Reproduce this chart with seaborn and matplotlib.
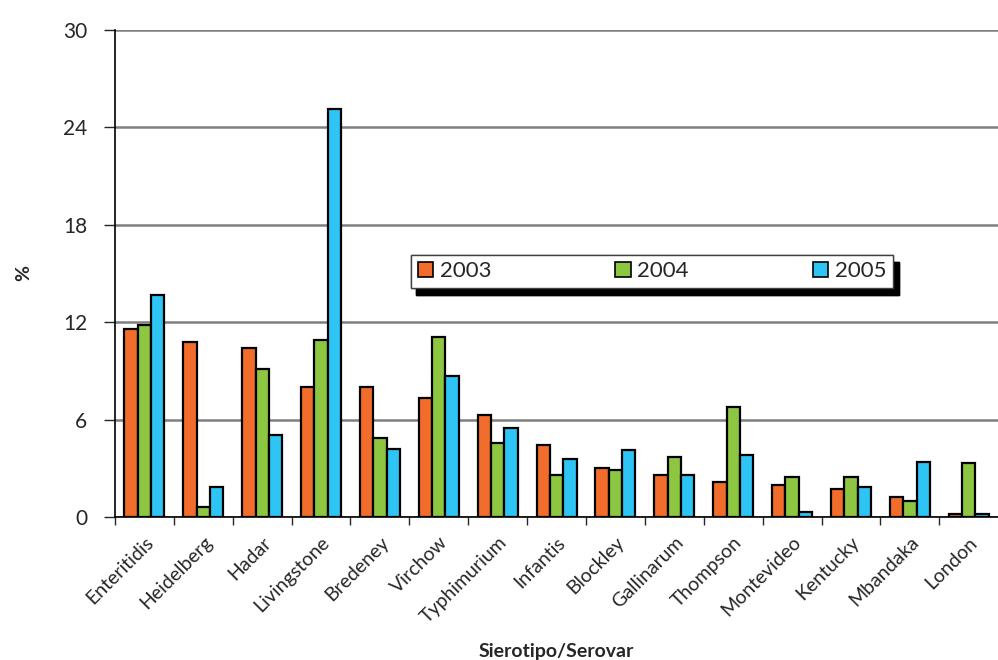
import numpy as np
import pandas as pd
import matplotlib
matplotlib.use("Agg")
import matplotlib.pyplot as plt
import seaborn as sns

# %% data
serovars = ["Enteritidis", "Heidelberg", "Hadar", "Livingstone", "Bredeney",
            "Virchow", "Typhimurium", "Infantis", "Blockley", "Gallinarum",
            "Thompson", "Montevideo", "Kentucky", "Mbandaka", "London"]
years = ["2003", "2004", "2005"]
pct_2003 = [11.6, 10.8, 10.4, 8.0, 8.0, 7.35, 6.3, 4.45, 3.0, 2.6, 2.15, 1.95, 1.75, 1.2, 0.2]
pct_2004 = [11.8, 0.6, 9.1, 10.9, 4.85, 11.1, 4.55, 2.6, 2.9, 3.7, 6.75, 2.45, 2.45, 1.0, 3.3]
pct_2005 = [13.7, 1.85, 5.05, 25.1, 4.2, 8.7, 5.5, 3.6, 4.15, 2.6, 3.8, 0.3, 1.85, 3.4, 0.2]
yticks = [0, 6, 12, 18, 24, 30]
colors = ["#F26D2B", "#8DC641", "#2EC4F3"]

df = pd.DataFrame({
    "Serovar": serovars * 3,
    "Anno": [y for y in years for _ in serovars],
    "pct": pct_2003 + pct_2004 + pct_2005,
})

# %% plot
sns.set_style("white")
plt.rcParams["font.family"] = ["Lato", "DejaVu Sans"]

fig = plt.figure(figsize=(9.98, 6.6), dpi=100)
ax = fig.add_axes([0.1152, 0.2167, 0.885, 0.738])

sns.barplot(data=df, x="Serovar", y="pct", hue="Anno", palette=colors,
            saturation=1, width=0.68, edgecolor="black", linewidth=1.6,
            ax=ax, zorder=3)

ax.set_ylim(0, 30)
ax.set_xlim(-0.5, len(serovars) - 0.5)
ax.set_yticks(yticks)
ax.set_yticklabels([str(t) for t in yticks], fontsize=15)
ax.yaxis.grid(True, color="#7f7f7f", linewidth=1.8, zorder=0)
ax.set_axisbelow(True)

for s in ["top", "right"]:
    ax.spines[s].set_visible(False)
ax.spines["left"].set_color("black")
ax.spines["bottom"].set_color("black")
ax.spines["left"].set_linewidth(1.2)
ax.spines["bottom"].set_linewidth(1.2)

ax.tick_params(axis="y", left=True, length=8, width=1, direction="out", pad=12)
ax.set_xticks(np.arange(len(serovars)))
ax.set_xticklabels(serovars, rotation=45, ha="right", rotation_mode="anchor", fontsize=14)
ax.tick_params(axis="x", which="major", length=0, pad=12)
ax.set_xticks(np.arange(len(serovars)) - 0.5, minor=True)
ax.tick_params(axis="x", which="minor", bottom=True, length=6, width=1, direction="out")

ax.set_ylabel("%", fontsize=14, fontweight="bold", labelpad=22)
ax.set_xlabel("Sierotipo/Serovar", fontsize=14, fontweight="bold", labelpad=12)

leg = ax.legend(loc="lower left", bbox_to_anchor=(0.335, 0.47, 0.546, 0.068),
                mode="expand", ncol=3, fontsize=16, frameon=True, fancybox=False,
                edgecolor="#404040", handlelength=0.7, handleheight=0.7,
                handletextpad=0.3, borderaxespad=0, borderpad=0.3,
                shadow={"color": "black", "alpha": 1, "ox": 4, "oy": -5})
leg.get_frame().set_linewidth(1.0)
for h in leg.legend_handles:
    h.set_linewidth(1.2)
ax.add_artist(leg)

fig.savefig("out.png", dpi=100)
